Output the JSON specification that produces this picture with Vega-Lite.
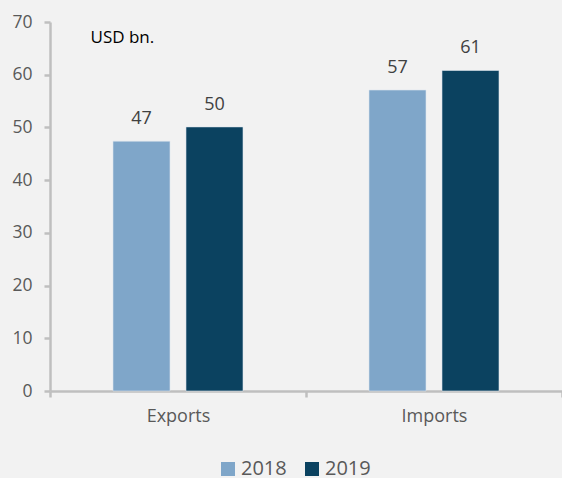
{
  "$schema": "https://vega.github.io/schema/vega-lite/v6.json",
  "autosize": {"type": "none"},
  "width": 512,
  "height": 369,
  "padding": {"left": 50, "top": 22, "right": 0, "bottom": 87},
  "background": "#f2f2f2",
  "config": {
    "view": {"stroke": null},
    "font": "Open Sans",
    "axis": {"grid": false, "domainColor": "#bfbfbf", "domainWidth": 2.5, "tickColor": "#bfbfbf", "tickWidth": 2.5, "labelColor": "#595959", "labelFont": "Open Sans", "labelFontSize": 17.5}
  },
  "data": {
    "values": [
      {"flow": "Exports", "year": "2018", "value": 47.4},
      {"flow": "Exports", "year": "2019", "value": 50.1},
      {"flow": "Imports", "year": "2018", "value": 57.1},
      {"flow": "Imports", "year": "2019", "value": 60.8}
    ]
  },
  "encoding": {
    "x": {"field": "flow", "type": "nominal", "scale": {"paddingInner": 0, "paddingOuter": 0},
      "axis": {"title": null, "labelAngle": 0, "tickBand": "extent", "tickSize": 6, "labelPadding": 10, "labelFontSize": 18, "domainWidth": 2.5}},
    "xOffset": {"field": "year", "type": "nominal", "scale": {"paddingInner": 0.219, "paddingOuter": 0.863}},
    "y": {"field": "value", "type": "quantitative", "scale": {"domain": [0, 70], "nice": false},
      "axis": {"values": [0, 10, 20, 30, 40, 50, 60, 70], "tickSize": 6, "labelPadding": 12,
        "title": "USD bn.", "titleAngle": 0, "titleAlign": "left", "titleBaseline": "middle", "titleX": 40, "titleY": 15,
        "titleFont": "Open Sans", "titleFontSize": 17, "titleFontWeight": "normal", "titleColor": "#000000"}}
  },
  "layer": [
    {
      "mark": {"type": "bar", "stroke": "#dde6ef", "strokeWidth": 0.6},
      "encoding": {
        "color": {"field": "year", "type": "nominal",
          "scale": {"domain": ["2018", "2019"], "range": ["#7fa6c9", "#0b4260"]},
          "legend": {"title": null, "orient": "none", "legendX": 168, "legendY": 437, "direction": "horizontal", "symbolType": "square", "symbolSize": 196, "symbolStrokeWidth": 0, "labelFontSize": 20, "labelColor": "#595959", "labelFont": "Open Sans", "columnPadding": 15, "labelOffset": 3}
        }
      }
    },
    {
      "mark": {"type": "text", "baseline": "alphabetic", "dy": -17, "fontSize": 18, "color": "#404040", "font": "Open Sans"},
      "encoding": {"text": {"field": "value", "type": "quantitative", "format": ".0f"}}
    }
  ]
}
